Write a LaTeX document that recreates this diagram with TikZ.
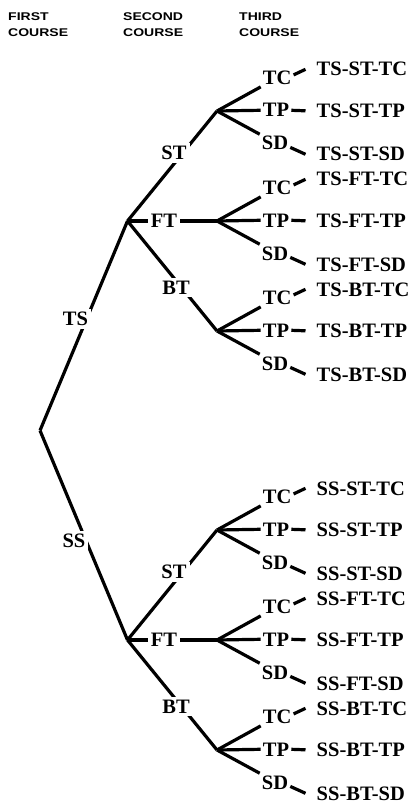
\documentclass[tikz,border=0pt]{standalone}
\usepackage{fontspec}
\newfontfamily\hdfont[FakeStretch=1.25]{Liberation Sans Bold}
\newfontfamily\tlfont{Liberation Serif Bold}
\begin{document}
\begin{tikzpicture}[x=1pt,y=-1pt,
  ln/.style={line width=3.2pt},
  hd/.style={font=\hdfont\fontsize{11.2}{13}\selectfont, inner sep=0pt, anchor=base west},
  lab/.style={font=\tlfont\fontsize{20.5}{24}\selectfont, inner sep=2pt, anchor=base west},
  mid/.style={font=\tlfont\fontsize{20.5}{24}\selectfont, inner sep=3pt, fill=white},
  leaf/.style={font=\tlfont\fontsize{20.5}{24}\selectfont, inner xsep=11pt, inner ysep=0pt, anchor=base west}]
\useasboundingbox (0,0) rectangle (415,802);
% headers
\node[hd] (h1a) at (8,20.7) {FIRST};
\node[hd] (h1b) at (8,36.3) {COURSE};
\node[hd] (h2a) at (123,20.7) {SECOND};
\node[hd] (h2b) at (123,36.3) {COURSE};
\node[hd] (h3a) at (239,20.7) {THIRD};
\node[hd] (h3b) at (239,36.3) {COURSE};
% main junctions
\coordinate (root) at (40,430.5);
\coordinate (A) at (127.5,221);
\coordinate (B) at (127.5,640);
\coordinate (a1) at (217,111);
\coordinate (a2) at (217,221);
\coordinate (a3) at (217,331);
\coordinate (b1) at (217,530);
\coordinate (b2) at (217,640);
\coordinate (b3) at (217,750);
\draw[ln] (root) -- (A);
\draw[ln] (root) -- (B);
\foreach \j in {1,2,3} {
  \draw[ln] (A) -- (a\j);
  \draw[ln] (B) -- (b\j);
}
% labels on the first and second course branches
\node[mid] (ts) at (75.5,319) {TS};
\node[mid] (ss) at (74,541) {SS};
\node[mid] (ast) at (174,153) {ST};
\node[mid] (aft) at (164,220.5) {FT};
\node[mid] (abt) at (176,287.5) {BT};
\node[mid] (bst) at (174,572) {ST};
\node[mid] (bft) at (164,639.5) {FT};
\node[mid] (bbt) at (176,706.5) {BT};
% third course
\foreach \n/\J/\a/\b in {a1/111/TS/ST, a2/221/TS/FT, a3/331/TS/BT, b1/530/SS/ST, b2/640/SS/FT, b3/750/SS/BT} {
  \node[lab] (\n tc) at (260.7,\J-26.5) {TC};
  \node[lab] (\n tp) at (260.7,\J+6) {TP};
  \node[lab] (\n sd) at (259.7,\J+39) {SD};
  \node[leaf] (\n l1) at (305.5,\J-35) {\a-\b-TC};
  \node[leaf] (\n l2) at (305.5,\J+6.5) {\a-\b-TP};
  \node[leaf] (\n l3) at (305.5,\J+50) {\a-\b-SD};
  \draw[ln] (\n) -- (\n tc.south west);
  \draw[ln] (\n) -- (\n tp.west);
  \draw[ln] (\n) -- (\n sd.north west);
  \draw[ln] (\n tc.10) -- (\n l1.west);
  \draw[ln] (\n tp.east) -- (\n l2.west);
  \draw[ln] (\n sd.-15) -- (\n l3.west);
}
\end{tikzpicture}
\end{document}
